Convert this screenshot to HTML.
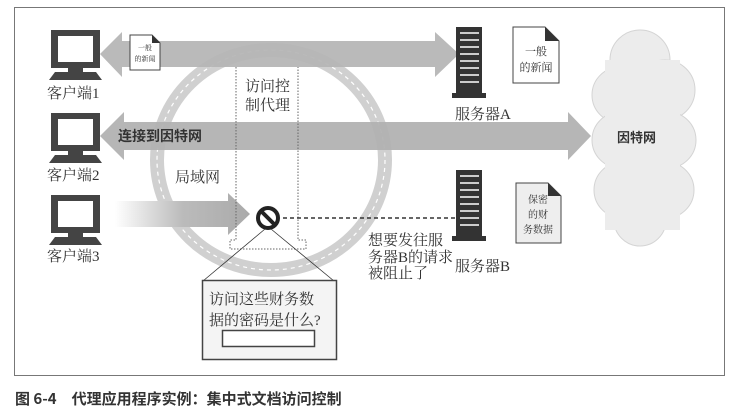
<!DOCTYPE html>
<html><head><meta charset="utf-8"><style>
body{margin:0;background:#fff;width:733px;height:413px;overflow:hidden}
svg{display:block}
text{font-family:"Liberation Serif","Noto Serif CJK SC",serif;fill:#333}
</style></head><body>
<svg width="733" height="413" viewBox="0 0 733 413">
<defs>
<linearGradient id="g3" x1="0" x2="1"><stop offset="0" stop-color="#fff"/><stop offset="0.5" stop-color="#bbb"/><stop offset="1" stop-color="#aaa"/></linearGradient>
<g id="mon">
<rect x="51" y="30" width="49" height="38" fill="#444"/>
<rect x="58" y="36" width="35" height="26" fill="#fff"/>
<rect x="68" y="68" width="15" height="4" fill="#444"/>
<polygon points="55,72 96,72 102,80 49,80" fill="#444"/>
</g>
<g id="srv">
<rect x="456" y="0" width="26" height="66" fill="#333"/>
<g stroke="#fff" stroke-width="1.6">
<line x1="460" y1="6" x2="479" y2="6"/><line x1="460" y1="13" x2="479" y2="13"/><line x1="460" y1="20" x2="479" y2="20"/><line x1="460" y1="27" x2="479" y2="27"/><line x1="460" y1="34" x2="479" y2="34"/><line x1="460" y1="41" x2="479" y2="41"/><line x1="460" y1="48" x2="479" y2="48"/><line x1="460" y1="55" x2="479" y2="55"/></g>
<rect x="452" y="66" width="34" height="5" fill="#333"/>
</g>
</defs>
<rect x="14.5" y="7.5" width="710" height="368" fill="#fff" stroke="#777"/>
<!-- cloud -->
<g fill="#ececec" stroke="#d4d4d4">
<circle cx="640" cy="60" r="30"/><circle cx="620" cy="95" r="28"/><circle cx="665" cy="90" r="30"/>
<circle cx="620" cy="140" r="28"/><circle cx="668" cy="140" r="28"/><circle cx="622" cy="190" r="28"/><circle cx="666" cy="190" r="28"/><circle cx="640" cy="220" r="26"/>
</g>
<rect x="605" y="60" width="75" height="170" fill="#ececec"/>
<text x="617" y="142" font-size="13" font-weight="bold" style="font-family:'Noto Sans CJK SC',sans-serif">因特网</text>
<!-- ring -->
<ellipse cx="271" cy="160" rx="114" ry="110" fill="none" stroke="#d0d0d0" stroke-width="14"/>
<ellipse cx="271" cy="160" rx="114" ry="110" fill="none" stroke="#fff" stroke-width="1.2" stroke-dasharray="4 4"/>
<!-- arrows -->
<polygon points="100,54 122,32 122,41 435,41 435,32 459,54 435,77 435,67 122,67 122,77" fill="#b4b4b4" opacity="0.92"/>
<polygon points="100,136 124,112 124,122 568,122 568,112 591,136 568,160 568,150 124,150 124,160" fill="#b0b0b0" opacity="0.92"/>
<polygon points="115,201 228,201 228,193 250,214 228,235 228,227 115,227" fill="url(#g3)"/>
<!-- proxy dotted -->
<path d="M236,67 V240 H230 V249 H306 V240 H298 V67" fill="none" stroke="#666" stroke-dasharray="1.5 1.5"/>
<text x="245" y="91" font-size="15">访问控</text>
<text x="245" y="110" font-size="15">制代理</text>
<text x="175" y="182" font-size="15">局域网</text>
<text x="118" y="141" font-size="14" font-weight="bold" style="font-family:'Noto Sans CJK SC',sans-serif" fill="#333">连接到因特网</text>
<!-- clients -->
<use href="#mon"/>
<use href="#mon" y="83"/>
<use href="#mon" y="165"/>
<text x="47" y="98" font-size="15">客户端1</text>
<text x="47" y="180" font-size="15">客户端2</text>
<text x="47" y="261" font-size="15">客户端3</text>
<!-- doc small -->
<path d="M130,35 H152 L160,43 V70 H130 Z" fill="#fff" stroke="#444"/>
<path d="M152,35 L160,43 H152 Z" fill="#333"/>
<text x="145" y="50" font-size="7" text-anchor="middle">一般</text>
<text x="145" y="61" font-size="7" text-anchor="middle">的新闻</text>
<!-- servers -->
<use href="#srv" y="27"/>
<use href="#srv" y="170"/>
<text x="455" y="119" font-size="15">服务器A</text>
<text x="455" y="271" font-size="15">服务器B</text>
<path d="M513,27 H545 L559,41 V83 H513 Z" fill="#fff" stroke="#444"/>
<path d="M545,27 L559,41 H545 Z" fill="#333"/>
<text x="536" y="55" font-size="11" text-anchor="middle">一般</text>
<text x="536" y="71" font-size="11" text-anchor="middle">的新闻</text>
<path d="M516,183 H548 L561,196 V243 H516 Z" fill="#eee" stroke="#444"/>
<path d="M548,183 L561,196 H548 Z" fill="#333"/>
<text x="538" y="203" font-size="10" text-anchor="middle">保密</text>
<text x="538" y="218" font-size="10" text-anchor="middle">的财</text>
<text x="538" y="233" font-size="10" text-anchor="middle">务数据</text>
<!-- blocked -->
<line x1="283" y1="218" x2="455" y2="218" stroke="#333" stroke-width="1.6" stroke-dasharray="4 3"/>
<circle cx="268" cy="218" r="10" fill="#fff" stroke="#222" stroke-width="4"/>
<line x1="261" y1="211" x2="275" y2="225" stroke="#222" stroke-width="4"/>
<text x="368" y="245" font-size="15">想要发往服</text>
<text x="368" y="262" font-size="15">务器B的请求</text>
<text x="368" y="278" font-size="15">被阻止了</text>
<line x1="265" y1="229" x2="203" y2="281" stroke="#333" stroke-width="0.8"/>
<line x1="271" y1="229" x2="334" y2="281" stroke="#333" stroke-width="0.8"/>
<rect x="202.5" y="280.5" width="134" height="79" fill="#f4f4f4" stroke="#444" stroke-width="1.5"/>
<text x="209" y="304" font-size="15">访问这些财务数</text>
<text x="209" y="325" font-size="15">据的密码是什么?</text>
<rect x="222.5" y="330.5" width="92" height="16" fill="#fff" stroke="#444" stroke-width="1.5"/>
<text x="15" y="404" font-size="15" font-weight="bold" style="font-family:'Noto Sans CJK SC',sans-serif" fill="#222">图 6-4　代理应用程序实例：集中式文档访问控制</text>
</svg>
</body></html>
